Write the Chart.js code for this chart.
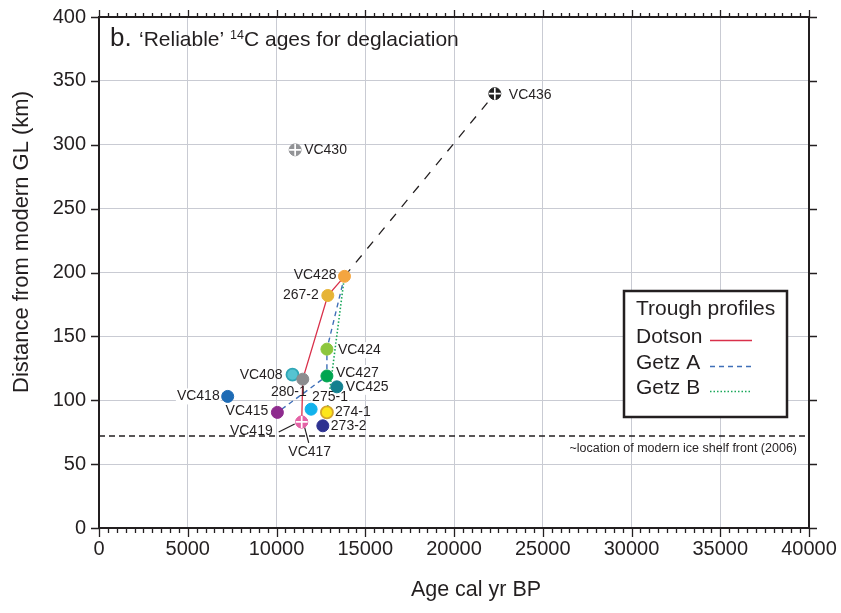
<!DOCTYPE html>
<html>
<head>
<meta charset="utf-8">
<title>Reliable 14C ages for deglaciation</title>
<script src="https://cdn.jsdelivr.net/npm/chart.js@4.4.0/dist/chart.umd.min.js"></script>
<style>
  html, body { margin: 0; padding: 0; background: #fff; }
  #wrap { width: 841px; height: 613px; }
</style>
</head>
<body>
<div id="wrap"><canvas id="ages-chart" width="841" height="613"></canvas></div>
<script>
// Cores with a 'reliable' deglacial age: age (cal yr BP) vs distance from modern GL (km)
const cores     = ['VC436', 'VC430', 'VC428', '267-2', 'VC424', 'VC427', 'VC425', 'VC408', '280-1', 'VC418', 'VC415', '275-1', '274-1', 'VC419', 'VC417', '273-2'];
const ages      = [22300, 11050, 13830, 12890, 12840, 12840, 13400, 10900, 11480, 7250, 10050, 11950, 12840, 11420, 11420, 12610];
const distances = [340, 296, 197, 182, 140, 119, 110.5, 120, 116.5, 103, 90.5, 93, 90.5, 83, 83, 80];

// Trough profiles, listed as the cores they join
const dotsonCores   = ['VC428', '267-2', '280-1', 'VC417'];
const getzACores    = ['VC428', 'VC424', 'VC427', 'VC415'];
const getzBCores    = ['VC428', '274-1'];
const offshoreCores = ['VC428', 'VC436'];

const iceFrontKm = 72;           // modern ice shelf front (2006)
const xTicks = [0, 5000, 10000, 15000, 20000, 25000, 30000, 35000, 40000];
const yTicks = [0, 50, 100, 150, 200, 250, 300, 350, 400];

const INK = '#231f20';
const FONT = '"Liberation Sans", Arial, Helvetica, sans-serif';
const MARKER_R = 6;

// marker fill / ring colours, same order as cores
const coreFill = ['#1f1f1f', '#929396', '#f4a540', '#e6b436', '#8cc63e', '#00a550', '#13808f', '#56c3d1', '#8c8c8e', '#1d6bb5', '#8e2b8e', '#12b2ec', '#fde61a', '#e463a6', '#e463a6', '#2d3190'];
const coreRing = ['#1f1f1f', '#929396', '#f4a540', '#e6b436', '#8cc63e', '#00a550', '#13808f', '#2fa6b6', '#8c8c8e', '#1d6bb5', '#8e2b8e', '#12b2ec', '#d6a62a', '#e463a6', '#e463a6', '#2d3190'];
const crossed = ['VC436', 'VC430', 'VC417'];

// where each core name sits relative to its marker
const labelPos = {
  'VC436': { dx: 14, dy: 1, align: 'left' },
  'VC430': { dx: 9, dy: 0, align: 'left' },
  'VC428': { dx: -8, dy: -1, align: 'right' },
  '267-2': { dx: -9, dy: 0, align: 'right' },
  'VC424': { dx: 11, dy: 1, align: 'left', bg: true },
  'VC427': { dx: 9, dy: -3, align: 'left', bg: true },
  'VC425': { dx: 9, dy: 0, align: 'left', bg: true },
  'VC408': { dx: -10, dy: 0, align: 'right' },
  '280-1': { dx: 4, dy: 13, align: 'right' },
  'VC418': { dx: -8, dy: 0, align: 'right', bg: true },
  'VC415': { dx: -9, dy: -1, align: 'right' },
  '275-1': { dx: 1, dy: -12, align: 'left', bg: true },
  '274-1': { dx: 8, dy: 0, align: 'left' },
  'VC419': { dx: -29, dy: 9, align: 'right' },
  'VC417': { dx: 8, dy: 30, align: 'center' },
  '273-2': { dx: 8, dy: 0, align: 'left' }
};
const leaders = {
  'VC419': [[-23, 10], [-7, 2]],
  'VC417': [[2, 2], [7, 21]]
};

function pointsFor(names) {
  return names.map(n => {
    const i = cores.indexOf(n);
    return { x: ages[i], y: distances[i] };
  });
}

function lineSet(names, color, dash, width) {
  return {
    type: 'line',
    data: pointsFor(names),
    borderColor: color,
    borderWidth: width,
    borderDash: dash,
    pointRadius: 0,
    fill: false,
    tension: 0
  };
}

// labels and leader lines go in after the profiles, before the markers
const coreLabels = {
  id: 'coreLabels',
  afterDatasetDraw(chart, args) {
    const ctx = chart.ctx;
    const pts = chart.getDatasetMeta(0).data;
    if (args.index === 1) {
      ctx.save();
      ctx.strokeStyle = INK;
      ctx.lineWidth = 1.2;
      Object.keys(leaders).forEach(name => {
        const p = pts[cores.indexOf(name)];
        const [a, b] = leaders[name];
        ctx.beginPath();
        ctx.moveTo(p.x + a[0], p.y + a[1]);
        ctx.lineTo(p.x + b[0], p.y + b[1]);
        ctx.stroke();
      });
      ctx.font = '14px ' + FONT;
      ctx.textBaseline = 'middle';
      cores.forEach((name, i) => {
        const s = labelPos[name];
        const p = pts[i];
        const x = p.x + s.dx, y = p.y + s.dy;
        ctx.textAlign = s.align;
        if (s.bg) {
          const w = ctx.measureText(name).width;
          const x0 = s.align === 'left' ? x : s.align === 'right' ? x - w : x - w / 2;
          ctx.fillStyle = '#fff';
          ctx.fillRect(x0 - 1, y - 8, w + 2, 16);
        }
        ctx.fillStyle = INK;
        ctx.fillText(name, x, y);
      });
      ctx.restore();
    }
    if (args.index === 0) {
      // white cross on the marked cores
      ctx.save();
      ctx.strokeStyle = '#fff';
      ctx.lineWidth = 1.7;
      crossed.forEach(name => {
        const p = pts[cores.indexOf(name)];
        const r = MARKER_R;
        ctx.beginPath();
        ctx.moveTo(p.x - r, p.y); ctx.lineTo(p.x + r, p.y);
        ctx.moveTo(p.x, p.y - r); ctx.lineTo(p.x, p.y + r);
        ctx.stroke();
      });
      ctx.restore();
    }
  }
};

// frame with major/minor ticks, titles, annotation and legend box
const decorations = {
  id: 'decorations',
  afterDraw(chart) {
    const ctx = chart.ctx;
    const { left, right, top, bottom } = chart.chartArea;
    const xs = chart.scales.x, ys = chart.scales.y;
    ctx.save();
    ctx.strokeStyle = INK;

    ctx.lineWidth = 1.3;
    ctx.beginPath();
    for (let v = 0; v <= 40000; v += 500) {
      const px = Math.round(xs.getPixelForValue(v)) + 0.5;
      const major = v % 5000 === 0;
      ctx.moveTo(px, top); ctx.lineTo(px, top - (major ? 7 : 4));
      ctx.moveTo(px, bottom); ctx.lineTo(px, bottom + (major ? 9 : 5));
    }
    yTicks.forEach(v => {
      const py = Math.round(ys.getPixelForValue(v)) + 0.5;
      ctx.moveTo(left - 8, py); ctx.lineTo(left, py);
      ctx.moveTo(right, py); ctx.lineTo(right + 8, py);
    });
    ctx.stroke();

    ctx.lineWidth = 2;
    ctx.strokeRect(left, top, right - left, bottom - top);

    // panel title
    ctx.fillStyle = INK;
    ctx.textBaseline = 'alphabetic';
    ctx.textAlign = 'left';
    ctx.font = '26px ' + FONT;
    ctx.fillText('b.', 110, 46);
    ctx.font = '21px ' + FONT;
    let tx = 139;
    const part1 = '\u2018Reliable\u2019 ';
    ctx.fillText(part1, tx, 46);
    tx += ctx.measureText(part1).width;
    ctx.font = '12.5px ' + FONT;
    ctx.fillText('14', tx, 39);
    tx += ctx.measureText('14').width;
    ctx.font = '21px ' + FONT;
    ctx.fillText('C ages for deglaciation', tx, 46);

    // axis titles
    ctx.font = '21.5px ' + FONT;
    ctx.textAlign = 'center';
    ctx.textBaseline = 'middle';
    ctx.fillText('Age cal yr BP', 476, 590);
    ctx.save();
    ctx.translate(22, 242);
    ctx.rotate(-Math.PI / 2);
    ctx.font = '22px ' + FONT;
    ctx.fillText('Distance from modern GL (km)', 0, 0);
    ctx.restore();

    // ice shelf front note
    ctx.font = '12.5px ' + FONT;
    ctx.textAlign = 'right';
    ctx.fillText('~location of modern ice shelf front (2006)', 797, ys.getPixelForValue(iceFrontKm) + 13);

    // legend
    const bx = 624, by = 291, bw = 163, bh = 126;
    ctx.fillStyle = '#fff';
    ctx.fillRect(bx, by, bw, bh);
    ctx.lineWidth = 2.5;
    ctx.strokeStyle = INK;
    ctx.strokeRect(bx, by, bw, bh);
    ctx.fillStyle = INK;
    ctx.textAlign = 'left';
    ctx.font = '21px ' + FONT;
    ctx.fillText('Trough profiles', 636, 309);
    const rows = [
      ['Dotson', 337, '#d9304a', [], 1.3],
      ['Getz A', 363, '#3f6fb8', [5, 4], 1.4],
      ['Getz B', 388, '#19a75a', [1.5, 2], 1.6]
    ];
    rows.forEach(([name, y, color, dash, w]) => {
      ctx.fillStyle = INK;
      ctx.fillText(name, 636, y);
      ctx.strokeStyle = color;
      ctx.lineWidth = w;
      ctx.setLineDash(dash);
      ctx.beginPath();
      ctx.moveTo(710, y + 3.5);
      ctx.lineTo(752, y + 3.5);
      ctx.stroke();
    });
    ctx.restore();
  }
};

const ctx = document.getElementById('ages-chart').getContext('2d');
new Chart(ctx, {
  type: 'scatter',
  data: {
    datasets: [
      {
        type: 'scatter',
        data: pointsFor(cores),
        pointRadius: MARKER_R,
        pointBackgroundColor: coreFill,
        pointBorderColor: coreRing,
        pointBorderWidth: cores.map((c, i) => coreFill[i] === coreRing[i] ? 1 : 1.8),
        pointHoverRadius: MARKER_R
      },
      lineSet(dotsonCores, '#d9304a', [], 1.3),
      lineSet(getzACores, '#3f6fb8', [5, 4], 1.4),
      lineSet(getzBCores, '#19a75a', [1.5, 2], 1.6),
      lineSet(offshoreCores, INK, [9, 9], 1.3),
      {
        type: 'line',
        data: [{ x: xTicks[0], y: iceFrontKm }, { x: xTicks[xTicks.length - 1], y: iceFrontKm }],
        borderColor: INK,
        borderWidth: 1.6,
        borderDash: [6, 4],
        pointRadius: 0,
        fill: false
      }
    ]
  },
  options: {
    responsive: false,
    animation: false,
    layout: { padding: { left: 0, right: 32, top: 17, bottom: 0 } },
    plugins: {
      legend: { display: false },
      tooltip: { enabled: false }
    },
    scales: {
      x: {
        type: 'linear',
        min: 0,
        max: 40000,
        afterBuildTicks: s => { s.ticks = xTicks.map(v => ({ value: v })); },
        afterFit: s => { s.height = 85; s.paddingLeft = 0; s.paddingRight = 0; },
        ticks: {
          color: INK,
          font: { family: FONT, size: 20 },
          padding: 9,
          maxRotation: 0,
          callback: v => String(v)
        },
        grid: { color: '#c9cbd3', lineWidth: 1, drawTicks: false },
        border: { display: false }
      },
      y: {
        type: 'linear',
        min: 0,
        max: 400,
        afterBuildTicks: s => { s.ticks = yTicks.map(v => ({ value: v })); },
        afterFit: s => { s.width = 99; s.paddingTop = 0; s.paddingBottom = 0; },
        ticks: {
          color: INK,
          font: { family: FONT, size: 20 },
          padding: 13,
          callback: v => String(v)
        },
        grid: { color: '#c9cbd3', lineWidth: 1, drawTicks: false },
        border: { display: false }
      }
    }
  },
  plugins: [coreLabels, decorations]
});
</script>
</body>
</html>
